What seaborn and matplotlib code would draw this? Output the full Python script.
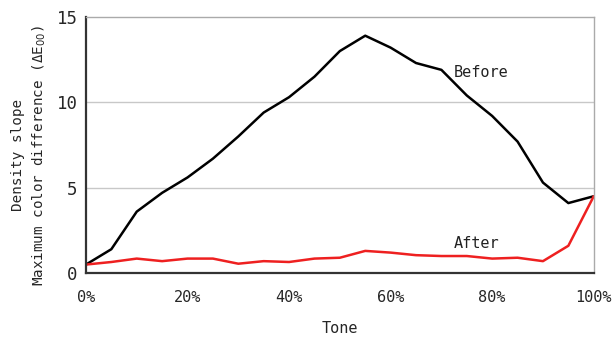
import matplotlib
matplotlib.use('Agg')
import matplotlib.pyplot as plt
import seaborn as sns
import pandas as pd

sns.set_theme(style="white")
plt.rcParams['font.family'] = ['DejaVu Sans Mono', 'DejaVu Sans']

# Data
tone = [0, 5, 10, 15, 20, 25, 30, 35, 40, 45, 50, 55, 60, 65, 70, 75, 80, 85, 90, 95, 100]
before = [0.5, 1.4, 3.6, 4.7, 5.6, 6.7, 8.0, 9.4, 10.3, 11.5, 13.0, 13.9, 13.2, 12.3, 11.9,
          10.4, 9.2, 7.7, 5.3, 4.1, 4.5]
after = [0.5, 0.65, 0.85, 0.7, 0.85, 0.85, 0.55, 0.7, 0.65, 0.85, 0.9, 1.3, 1.2, 1.05, 1.0,
         1.0, 0.85, 0.9, 0.7, 1.6, 4.5]
x_ticks = [0, 20, 40, 60, 80, 100]
x_labels = ['0%', '20%', '40%', '60%', '80%', '100%']
y_ticks = [0, 5, 10, 15]

df = pd.DataFrame({'Tone': tone + tone,
                   'Value': before + after,
                   'Series': ['Before'] * len(tone) + ['After'] * len(tone)})

fig = plt.figure(figsize=(6.14, 3.38), dpi=100)
ax = fig.add_axes([0.14, 0.192, 0.827, 0.758])

for y in [5, 10]:
    ax.axhline(y, color='#c8c8c8', lw=1, zorder=0)

sns.lineplot(data=df, x='Tone', y='Value', hue='Series',
             palette={'Before': 'black', 'After': '#ee2020'},
             linewidth=1.8, legend=False, ax=ax)

ax.set_xlim(0, 100)
ax.set_ylim(0, 15)
ax.set_xticks(x_ticks)
ax.set_xticklabels(x_labels, fontsize=11)
ax.set_yticks(y_ticks)
ax.set_yticklabels([str(v) for v in y_ticks], fontsize=12.5)
ax.tick_params(axis='x', direction='in', length=5, width=1, color='#333333', pad=12)
ax.tick_params(axis='y', length=0, pad=6)

for side in ['top', 'right']:
    ax.spines[side].set_color('#aaaaaa')
    ax.spines[side].set_linewidth(1)
for side in ['left', 'bottom']:
    ax.spines[side].set_color('#333333')
    ax.spines[side].set_linewidth(1.6)

ax.set_xlabel('Tone', fontsize=11, labelpad=12)
ax.set_ylabel('Density slope\nMaximum color difference (ΔE$_{00}$)', fontsize=10.3,
              linespacing=1.4)
ax.yaxis.set_label_coords(-0.075, 0.46)

ax.text(72.5, 11.5, 'Before', fontsize=11, color='#222222')
ax.text(72.5, 1.45, 'After', fontsize=11, color='#222222')

fig.savefig('out.png', dpi=100)
